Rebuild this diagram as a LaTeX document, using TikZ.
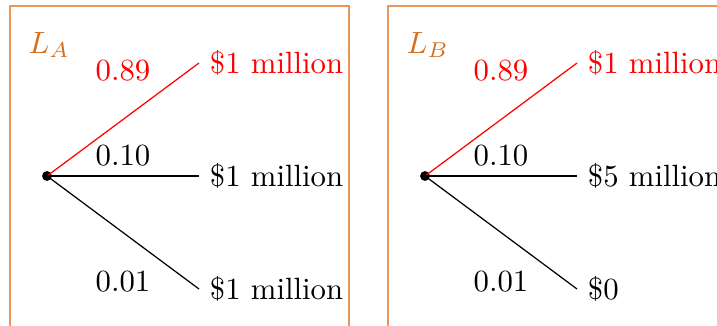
\documentclass[tikz,border=0pt]{standalone}
\definecolor{boxorange}{RGB}{214,110,30}
\definecolor{lineorange}{RGB}{232,150,90}
\tikzset{
  boxline/.style={draw=lineorange, line width=0.5pt},
  lottery/.style={text=boxorange, anchor=base west, inner sep=0pt},
  rootdot/.style={circle, fill=black, inner sep=0pt, minimum size=3.2pt},
  outcome/.style={anchor=west},
  prob/.style={anchor=base},
  branch/.style={line width=0.4pt},
}
\begin{document}
\begin{tikzpicture}[x=0.325pt,y=-0.325pt]
\useasboundingbox (0,0) rectangle (717,325);
\clip (0,0) rectangle (717,325);
% boxes
\draw[boxline] (10,6) rectangle (349,345);
\draw[boxline] (388,6) rectangle (740,345);
% lottery A
\node[lottery] (LA) at (28,53) {$L_A$};
\node[rootdot] (ra) at (47,176) {};
\node[outcome, text=red] (a1) at (199,63) {\$1 million};
\node[outcome] (a2) at (199,176) {\$1 million};
\node[outcome] (a3) at (199,289) {\$1 million};
\draw[branch, red] (ra.center) -- (a1.west);
\draw[branch] (ra.center) -- (a2.west);
\draw[branch] (ra.center) -- (a3.west);
\node[prob, text=red] (pa1) at (123,80.5) {0.89};
\node[prob] (pa2) at (123,165.5) {0.10};
\node[prob] (pa3) at (123,291.5) {0.01};
% lottery B
\node[lottery] (LB) at (406,53) {$L_B$};
\node[rootdot] (rb) at (425,176) {};
\node[outcome, text=red] (b1) at (577,63) {\$1 million};
\node[outcome] (b2) at (577,176) {\$5 million};
\node[outcome] (b3) at (577,289) {\$0};
\draw[branch, red] (rb.center) -- (b1.west);
\draw[branch] (rb.center) -- (b2.west);
\draw[branch] (rb.center) -- (b3.west);
\node[prob, text=red] (pb1) at (501,80.5) {0.89};
\node[prob] (pb2) at (501,165.5) {0.10};
\node[prob] (pb3) at (501,291.5) {0.01};
\end{tikzpicture}
\end{document}
